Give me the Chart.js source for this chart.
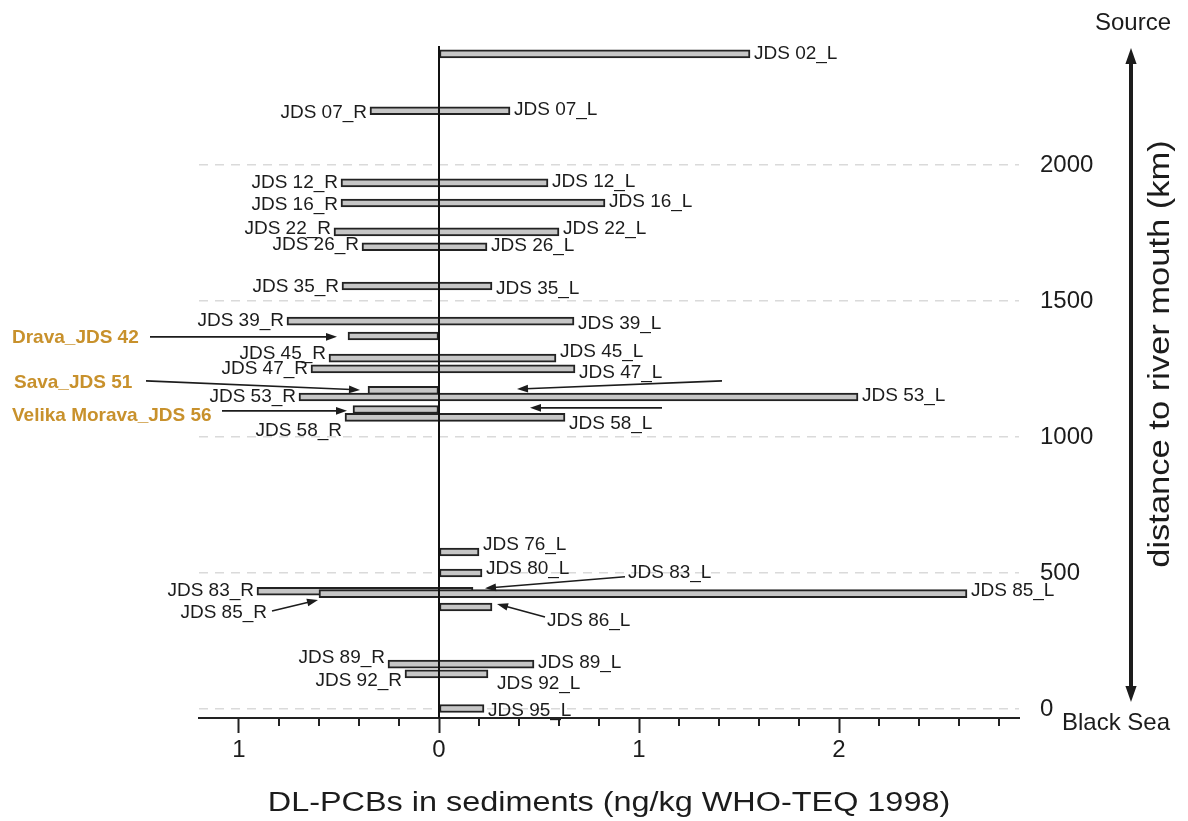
<!DOCTYPE html>
<html>
<head>
<meta charset="utf-8">
<title>DL-PCBs in Danube sediments</title>
<script src="https://cdn.jsdelivr.net/npm/chart.js@4.4.1/dist/chart.umd.min.js"></script>
<style>
  html, body { margin: 0; padding: 0; background: #fff; }
</style>
</head>
<body>
<canvas id="myChart" width="1188" height="821"></canvas>
<script>
// sampling sites along the river, upstream to downstream
const stations = ['JDS 02', 'JDS 07', 'JDS 12', 'JDS 16', 'JDS 22', 'JDS 26', 'JDS 35', 'JDS 39',
  'Drava_JDS 42', 'JDS 45', 'JDS 47', 'Sava_JDS 51', 'JDS 53', 'Velika Morava_JDS 56', 'JDS 58',
  'JDS 76', 'JDS 80', 'JDS 83', 'JDS 85', 'JDS 86', 'JDS 89', 'JDS 92', 'JDS 95'];
const distanceKm = [2408, 2199, 1934, 1860, 1754, 1699, 1555, 1426,
  1371, 1290, 1250, 1171, 1147, 1101, 1072,
  577, 500, 433, 424, 375, 165, 129, 2];
// ng/kg WHO-TEQ, right bank samples (drawn to the left of zero)
const rightBank = [null, 0.345, 0.49, 0.49, 0.525, 0.385, 0.485, 0.76,
  0.455, 0.55, 0.64, 0.355, 0.70, 0.43, 0.47,
  null, null, 0.91, 0.60, null, 0.255, 0.17, null];
// ng/kg WHO-TEQ, left bank samples
const leftBank = [1.555, 0.355, 0.545, 0.83, 0.60, 0.24, 0.265, 0.675,
  null, 0.585, 0.68, null, 2.095, null, 0.63,
  0.20, 0.215, 0.17, 2.64, 0.265, 0.475, 0.245, 0.225];
const kmTicks = [0, 500, 1000, 1500, 2000];

const FONT = '"Liberation Sans", Arial, sans-serif';
const INK = '#1c1c1c';
const TRIB = '#c8912c';

// labels that need a small shift so they don't collide
const nudge = {
  'JDS 07_R': [0, 2], 'JDS 07_L': [0, -1], 'JDS 12_L': [0, -1], 'JDS 16_R': [0, 2], 'JDS 16_L': [0, -1],
  'JDS 22_R': [0, -3], 'JDS 22_L': [0, -3], 'JDS 26_R': [0, -2], 'JDS 26_L': [0, -1],
  'JDS 35_R': [0, 1], 'JDS 35_L': [0, 3], 'JDS 39_L': [0, 3], 'JDS 45_R': [0, -4], 'JDS 45_L': [0, -6],
  'JDS 47_L': [0, 4], 'JDS 53_L': [0, -1], 'JDS 58_R': [0, 13], 'JDS 58_L': [0, 6],
  'JDS 76_L': [0, -7], 'JDS 80_L': [0, -4], 'JDS 85_L': [0, -3], 'JDS 89_R': [0, -6], 'JDS 89_L': [0, -1],
  'JDS 92_R': [0, 7], 'JDS 92_L': [5, 10], 'JDS 95_L': [0, 2]
};

// labels moved away from their bar, with a pointer (value, km)
const callouts = [
  { text: 'JDS 83_L', at: [0.945, 500], align: 'left', from: [0.93, 486], to: [0.23, 444] },
  { text: 'JDS 85_R', at: [-0.86, 353], align: 'right', from: [-0.835, 360], to: [-0.605, 401] },
  { text: 'JDS 86_L', at: [0.54, 324], align: 'left', from: [0.53, 338], to: [0.29, 386] }
];
const tributaries = [
  { text: 'Drava_JDS 42', at: [-2.135, 1364], from: [-1.445, 1368], to: [-0.51, 1368] },
  { text: 'Sava_JDS 51', at: [-2.125, 1199], from: [-1.465, 1206], to: [-0.395, 1173] },
  { text: 'Velika Morava_JDS 56', at: [-2.135, 1077], from: [-1.085, 1096], to: [-0.46, 1096] }
];
const pointers = [
  { from: [1.415, 1206], to: [0.39, 1176] },
  { from: [1.115, 1107], to: [0.455, 1107] }
];

const bars = stations.map((s, i) => ({
  y: distanceKm[i],
  x: [rightBank[i] == null ? 0 : -rightBank[i], leftBank[i] == null ? 0 : leftBank[i]]
}));

function arrow(ctx, x1, y1, x2, y2, w, head) {
  const a = Math.atan2(y2 - y1, x2 - x1);
  ctx.save();
  ctx.strokeStyle = INK;
  ctx.fillStyle = INK;
  ctx.lineWidth = w;
  ctx.beginPath();
  ctx.moveTo(x1, y1);
  ctx.lineTo(x2 - Math.cos(a) * head * 0.8, y2 - Math.sin(a) * head * 0.8);
  ctx.stroke();
  ctx.beginPath();
  ctx.moveTo(x2, y2);
  ctx.lineTo(x2 - head * Math.cos(a) + head * 0.35 * Math.sin(a), y2 - head * Math.sin(a) - head * 0.35 * Math.cos(a));
  ctx.lineTo(x2 - head * Math.cos(a) - head * 0.35 * Math.sin(a), y2 - head * Math.sin(a) + head * 0.35 * Math.cos(a));
  ctx.closePath();
  ctx.fill();
  ctx.restore();
}

function wideText(ctx, text, x, y, sx, align) {
  ctx.save();
  ctx.translate(x, y);
  ctx.scale(sx, 1);
  ctx.textAlign = align;
  ctx.fillText(text, 0, 0);
  ctx.restore();
}

const riverLabels = {
  id: 'riverLabels',
  afterDatasetsDraw(chart) {
    const { ctx, chartArea, scales: { x, y } } = chart;
    const px = v => x.getPixelForValue(v);
    const py = v => y.getPixelForValue(v);

    // zero line over the bars
    ctx.save();
    ctx.strokeStyle = '#111';
    ctx.lineWidth = 2;
    ctx.beginPath();
    ctx.moveTo(px(0), chartArea.top);
    ctx.lineTo(px(0), chartArea.bottom);
    ctx.stroke();

    // minor ticks every 0.2
    ctx.strokeStyle = '#222';
    ctx.lineWidth = 2;
    x.ticks.forEach(t => {
      if (Math.abs(t.value - Math.round(t.value)) < 1e-6) return;
      ctx.beginPath();
      ctx.moveTo(px(t.value), chartArea.bottom);
      ctx.lineTo(px(t.value), chartArea.bottom + 8);
      ctx.stroke();
    });

    // station labels at both bar ends
    const moved = callouts.map(c => c.text);
    ctx.font = '19px ' + FONT;
    ctx.fillStyle = INK;
    ctx.textBaseline = 'middle';
    stations.forEach((s, i) => {
      if (!s.startsWith('JDS')) return;
      const yc = py(distanceKm[i]);
      if (rightBank[i] != null && !moved.includes(s + '_R')) {
        const t = s + '_R', d = nudge[t] || [0, 0];
        ctx.textAlign = 'right';
        ctx.fillText(t, px(-rightBank[i]) - 3 + d[0], yc + d[1]);
      }
      if (leftBank[i] != null && !moved.includes(s + '_L')) {
        const t = s + '_L', d = nudge[t] || [0, 0];
        ctx.textAlign = 'left';
        ctx.fillText(t, px(leftBank[i]) + 4 + d[0], yc + d[1]);
      }
    });
    callouts.forEach(c => {
      ctx.textAlign = c.align;
      ctx.fillText(c.text, px(c.at[0]), py(c.at[1]));
      arrow(ctx, px(c.from[0]), py(c.from[1]), px(c.to[0]), py(c.to[1]), 1.6, 11);
    });
    pointers.forEach(p => arrow(ctx, px(p.from[0]), py(p.from[1]), px(p.to[0]), py(p.to[1]), 1.6, 11));

    // tributary inflows
    ctx.font = 'bold 19px ' + FONT;
    ctx.fillStyle = TRIB;
    ctx.textAlign = 'left';
    tributaries.forEach(t => {
      ctx.fillText(t.text, px(t.at[0]), py(t.at[1]));
      arrow(ctx, px(t.from[0]), py(t.from[1]), px(t.to[0]), py(t.to[1]), 1.6, 11);
    });

    // axis titles and river direction
    ctx.fillStyle = INK;
    ctx.font = '27px ' + FONT;
    wideText(ctx, 'DL-PCBs in sediments (ng/kg WHO-TEQ 1998)', (chartArea.left + chartArea.right) / 2, 804, 1.2, 'center');

    ctx.save();
    ctx.translate(1161, 354);
    ctx.rotate(-Math.PI / 2);
    ctx.font = '30px ' + FONT;
    wideText(ctx, 'distance to river mouth (km)', 0, 0, 1.15, 'center');
    ctx.restore();

    ctx.font = '24px ' + FONT;
    ctx.textAlign = 'center';
    ctx.fillText('Source', 1133, 23);
    ctx.textAlign = 'left';
    ctx.fillText('Black Sea', 1062, 723);

    arrow(ctx, 1131, 80, 1131, 48, 4, 16);
    arrow(ctx, 1131, 80, 1131, 702, 4, 16);
    ctx.restore();
  }
};

const ctx = document.getElementById('myChart').getContext('2d');

const myChart = new Chart(ctx, {
  type: 'bar',
  data: {
    datasets: [{
      label: 'DL-PCBs',
      data: bars,
      backgroundColor: '#c6c6c6',
      borderColor: '#222',
      borderWidth: 2,
      borderSkipped: false,
      barThickness: 8
    }]
  },
  options: {
    responsive: false,
    animation: false,
    indexAxis: 'y',
    layout: { padding: { left: 199, top: 46, right: 0, bottom: 0 } },
    plugins: {
      legend: { display: false },
      tooltip: { enabled: false }
    },
    scales: {
      x: {
        type: 'linear',
        min: -1.2,
        max: 2.9,
        afterFit: s => { s.height = 103; },
        border: { display: true, color: '#222', width: 2 },
        grid: {
          drawOnChartArea: false,
          tickLength: 15,
          tickWidth: 2,
          tickColor: c => Math.abs(c.tick.value - Math.round(c.tick.value)) < 1e-6 ? '#222' : 'rgba(0,0,0,0)'
        },
        ticks: {
          stepSize: 0.2,
          includeBounds: false,
          autoSkip: false,
          maxRotation: 0,
          padding: 3,
          color: INK,
          font: { family: FONT, size: 24 },
          callback: v => Math.abs(v - Math.round(v)) < 1e-6 ? String(Math.abs(Math.round(v))) : ''
        }
      },
      y: {
        type: 'linear',
        position: 'right',
        offset: false,
        min: -33,
        max: 2437,
        afterFit: s => { s.width = 169; },
        afterBuildTicks: s => { s.ticks = kmTicks.map(v => ({ value: v })); },
        border: { display: false, dash: [9, 7] },
        grid: { offset: false, color: '#dadada', lineWidth: 1.5, drawTicks: false },
        ticks: {
          padding: 21,
          color: INK,
          font: { family: FONT, size: 24 },
          callback: v => String(v)
        }
      }
    }
  },
  plugins: [riverLabels]
});
</script>
</body>
</html>
